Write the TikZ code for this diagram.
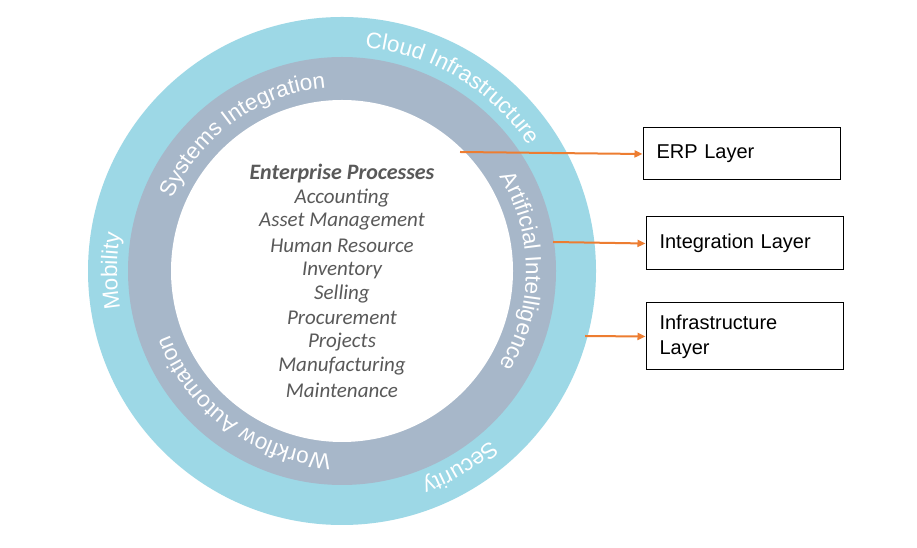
\documentclass[tikz,border=0pt]{standalone}
\usepackage{fontspec}
\setmainfont{Liberation Sans}
\newfontfamily\carl{Carlito}
\usetikzlibrary{decorations.text,arrows.meta}
\definecolor{outerring}{HTML}{9DD8E6}
\definecolor{midring}{HTML}{A7B7C9}
\definecolor{arr}{HTML}{ED7D31}
\definecolor{txtgray}{HTML}{595959}
\newcommand{\ringfont}{\fontsize{22.5}{26}\selectfont}
\tikzset{
  ringtext/.style={decorate,decoration={text along path,text align=center,text color=white}},
  layer/.style={draw=black,line width=1pt,minimum width=197pt,text width=170pt,align=left,font=\fontsize{20}{25}\selectfont},
  conn/.style={arr,line width=2pt,-{Triangle[length=8pt,width=7pt]}}
}
\begin{document}
\begin{tikzpicture}[x=1pt,y=1pt]
\useasboundingbox[fill=white] (0,0) rectangle (917,548);
\coordinate (c) at (342,277);
\fill[outerring] (c) circle[radius=254];
\fill[midring] (c) circle[radius=214];
\fill[white] (c) circle[radius=171];
% outer ring texts
\path[ringtext,decoration={text={|\ringfont|Cloud Infrastructure}}] (c) ++(89:225) arc[start angle=89,end angle=29,radius=225];
\path[ringtext,decoration={text={|\ringfont|Mobility}}] (c) ++(200:225) arc[start angle=200,end angle=160,radius=225];
\path[ringtext,decoration={text={|\ringfont|Security}}] (c) ++(-42:225) arc[start angle=-42,end angle=-76,radius=225];
% middle ring texts
\path[ringtext,decoration={text={|\ringfont|Systems Integration}}] (c) ++(162:184) arc[start angle=162,end angle=90,radius=184];
\path[ringtext,decoration={text={|\ringfont|Artificial Intelligence}}] (c) ++(37:184) arc[start angle=37,end angle=-37,radius=184];
\path[ringtext,decoration={text={|\ringfont|Workflow Automation}}] (c) ++(-88:184) arc[start angle=-88,end angle=-165,radius=184];
% inner list
\node[font=\carl\itshape\bfseries\fontsize{22}{24}\selectfont,text=txtgray] (t0) at (342,548-174) {Enterprise Processes};
\foreach \t [count=\i] in {Accounting,Asset Management,Human Resource,Inventory,Selling,Procurement,Projects,Manufacturing,Maintenance}
  \node[font=\carl\itshape\fontsize{21}{24}\selectfont,text=txtgray] (t\i) at (342,548-174-24*\i) {\t};
% boxes
\node[layer,minimum height=52pt] (erp) at (741.5,548-154) {ERP Layer};
\node[layer,minimum height=53pt] (int) at (744.5,548-243.5) {Integration Layer};
\node[layer,minimum height=67pt] (inf) at (744.5,548-336.5) {Infrastructure\\Layer};
\coordinate (a1) at (460,548-152);
\coordinate (a2) at (553,548-242);
\coordinate (a3) at (585,548-336);
\draw[conn] (a1) -- (erp.west);
\draw[conn] (a2) -- (int.west);
\draw[conn] (a3) -- (inf.west);
\end{tikzpicture}
\end{document}
